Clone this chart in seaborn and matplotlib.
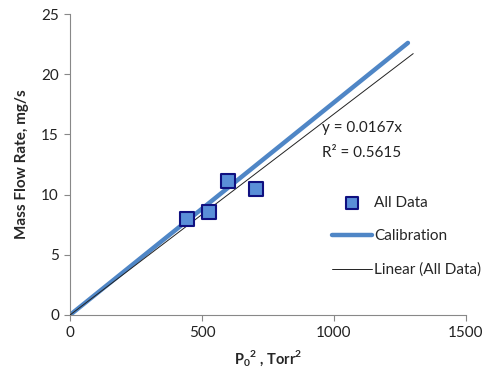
import numpy as np
import pandas as pd
import matplotlib
matplotlib.use("Agg")
import matplotlib.pyplot as plt
import seaborn as sns

# Measured points: P0^2 (Torr^2) vs. mass flow rate (mg/s)
p0_sq = [444, 526, 600, 703]
mass_flow = [7.95, 8.55, 11.13, 10.49]

# Calibration curve
cal_p0_sq = [0, 1280]
cal_flow = [0, 22.6]

# Linear trend through the origin for all data
trend_slope = 0.0167
trend_r2 = 0.5615
trend_x = [0, 1300]

x_ticks = [0, 500, 1000, 1500]
y_ticks = [0, 5, 10, 15, 20, 25]

sns.set_theme(style="white")
plt.rcParams["font.family"] = ["Lato", "DejaVu Sans"]
plt.rcParams["mathtext.fontset"] = "custom"
plt.rcParams["mathtext.rm"] = "Lato"
plt.rcParams["mathtext.bf"] = "Lato:bold"

fig = plt.figure(figsize=(4.98, 3.83), dpi=100)
ax = fig.add_axes([70 / 498, 1 - 315 / 383, (466 - 70) / 498, (315 - 14) / 383])

cal_df = pd.DataFrame({"x": cal_p0_sq, "y": cal_flow})
sns.lineplot(data=cal_df, x="x", y="y", ax=ax, color="#4F86C6", lw=3.2,
             label="Calibration", zorder=2)

trend_df = pd.DataFrame({"x": trend_x, "y": [trend_slope * v for v in trend_x]})
sns.lineplot(data=trend_df, x="x", y="y", ax=ax, color="#222222", lw=0.7,
             label="Linear (All Data)", zorder=3)

pts = pd.DataFrame({"x": p0_sq, "y": mass_flow})
sns.scatterplot(data=pts, x="x", y="y", ax=ax, marker="s", s=105,
                color="#5A8FD8", edgecolor="#101080", linewidth=1.5,
                label="All Data", zorder=4)

ax.set_xlim(0, 1500)
ax.set_ylim(0, 25)
ax.set_xticks(x_ticks)
ax.set_yticks(y_ticks)
ax.tick_params(axis="both", labelsize=11, length=4, width=0.8,
               direction="out", bottom=True, left=True, pad=4,
               colors="#888888", labelcolor="#222222")
for side in ("top", "right"):
    ax.spines[side].set_visible(False)
for side in ("left", "bottom"):
    ax.spines[side].set_color("#888888")
    ax.spines[side].set_linewidth(0.8)

ax.set_xlabel(r"$\mathbf{P_0}^{\mathbf{2}}$ , Torr$^{\mathbf{2}}$",
              fontsize=10.5, fontweight="bold", labelpad=6)
ax.set_ylabel("Mass Flow Rate, mg/s", fontsize=11, fontweight="bold",
              labelpad=9)

ax.text(955, 15.5, f"y = {trend_slope:.4f}x", fontsize=11, color="#222222",
        va="center")
ax.text(955, 13.45, f"R² = {trend_r2:.4f}", fontsize=11, color="#222222",
        va="center")

handles, labels = ax.get_legend_handles_labels()
order = [labels.index(k) for k in ("All Data", "Calibration", "Linear (All Data)")]
ax.legend([handles[i] for i in order], [labels[i] for i in order],
          loc="upper left", bbox_to_anchor=(0.627, 0.44), frameon=False,
          fontsize=11, handlelength=2.6, handletextpad=0.15, labelspacing=1.25,
          markerscale=0.85)

fig.savefig("out.png", dpi=100)
